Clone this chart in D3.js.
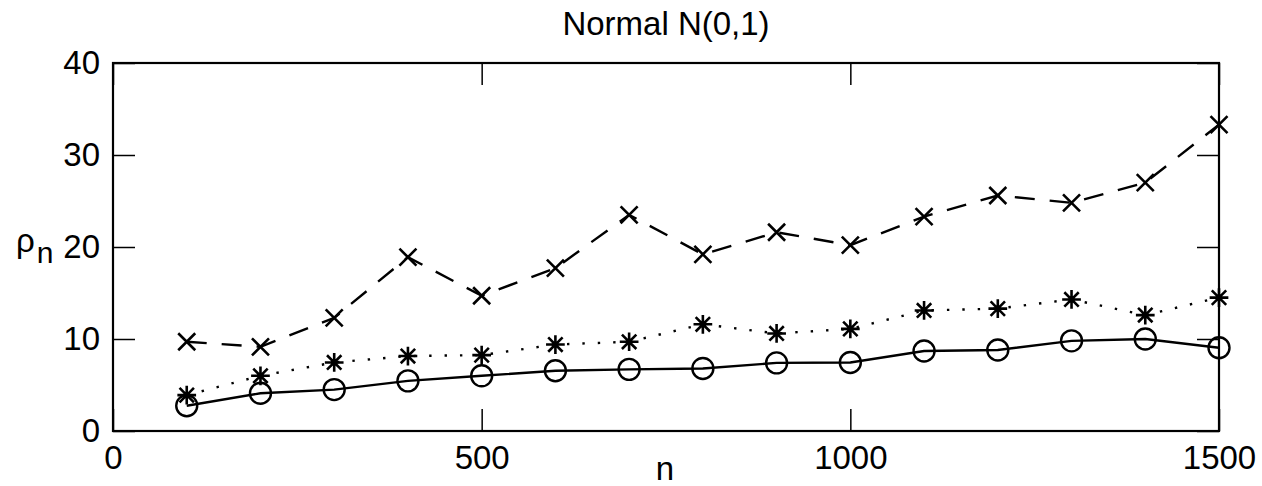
<!DOCTYPE html>
<html>
<head>
<meta charset="utf-8">
<script src="https://cdn.jsdelivr.net/npm/d3@7"></script>
<style>
  body { margin: 0; background: #fff; }
  svg { display: block; font-family: "Liberation Sans", Arial, Helvetica, sans-serif; }
</style>
</head>
<body>
<div id="chart"></div>
<script>
// sample sizes n
const nValues = [100, 200, 300, 400, 500, 600, 700, 800, 900, 1000, 1100, 1200, 1300, 1400, 1500];
// rho_n for the three methods
const seriesCircle = [2.75, 4.1, 4.5, 5.45, 6.0, 6.55, 6.7, 6.8, 7.4, 7.45, 8.7, 8.8, 9.8, 10.0, 9.05];
const seriesStar   = [3.9, 6.0, 7.45, 8.15, 8.25, 9.4, 9.7, 11.6, 10.6, 11.1, 13.1, 13.3, 14.3, 12.6, 14.5];
const seriesCross  = [9.7, 9.15, 12.3, 18.9, 14.7, 17.7, 23.5, 19.2, 21.6, 20.2, 23.3, 25.6, 24.8, 27.0, 33.3];
const xTicks = [0, 500, 1000, 1500];
const yTicks = [0, 10, 20, 30, 40];
const titleText = 'Normal N(0,1)';

const W = 1262, H = 486;
const margin = {top: 63, right: 43, bottom: 55, left: 113};
const width = W - margin.left - margin.right;
const height = H - margin.top - margin.bottom;
const fontSize = 33;

const svg = d3.select('#chart').append('svg')
    .attr('width', W)
    .attr('height', H);

const g = svg.append('g')
    .attr('transform', `translate(${margin.left},${margin.top})`);

const x = d3.scaleLinear().domain([0, 1500]).range([0, width]);
const y = d3.scaleLinear().domain([0, 40]).range([height, 0]);

// axes with inward ticks on all four sides
const tickLen = 22;
const styleAxis = sel => {
    sel.select('.domain').remove();
    sel.selectAll('line').attr('stroke', '#000').attr('stroke-width', 1.5);
    sel.selectAll('text').attr('fill', '#000').style('font-size', fontSize + 'px');
};

g.append('g')
    .attr('transform', `translate(0,${height})`)
    .call(d3.axisBottom(x).tickValues(xTicks).tickFormat(d3.format('d'))
        .tickSizeInner(-tickLen).tickSizeOuter(0).tickPadding(15))
    .call(styleAxis);

g.append('g')
    .call(d3.axisTop(x).tickValues(xTicks).tickSizeInner(-tickLen).tickSizeOuter(0).tickFormat(''))
    .call(styleAxis);

g.append('g')
    .call(d3.axisLeft(y).tickValues(yTicks).tickSizeInner(-tickLen).tickSizeOuter(0).tickPadding(13))
    .call(styleAxis);

g.append('g')
    .attr('transform', `translate(${width},0)`)
    .call(d3.axisRight(y).tickValues(yTicks).tickSizeInner(-tickLen).tickSizeOuter(0).tickFormat(''))
    .call(styleAxis);

// box
g.append('rect')
    .attr('x', 0).attr('y', 0)
    .attr('width', width).attr('height', height)
    .attr('fill', 'none')
    .attr('stroke', '#000')
    .attr('stroke-width', 2.2);

const series = [
    {values: seriesCross, dash: '20,15', marker: 'x'},
    {values: seriesStar, dash: '2.4,13', marker: 'star'},
    {values: seriesCircle, dash: null, marker: 'o'}
];

const line = d3.line()
    .x((d, i) => x(nValues[i]))
    .y(d => y(d));

const markerPath = (type, r) => {
    const p = d3.path();
    if (type === 'x' || type === 'star') {
        p.moveTo(-r, -r); p.lineTo(r, r);
        p.moveTo(-r, r); p.lineTo(r, -r);
    }
    if (type === 'star') {
        const s = r * 1.3;
        p.moveTo(0, -s); p.lineTo(0, s);
        p.moveTo(-s, 0); p.lineTo(s, 0);
    }
    return p.toString();
};

series.forEach(s => {
    g.append('path')
        .datum(s.values)
        .attr('d', line)
        .attr('fill', 'none')
        .attr('stroke', '#000')
        .attr('stroke-width', 2.4)
        .attr('stroke-dasharray', s.dash);

    const pts = g.append('g').selectAll('.pt')
        .data(s.values)
        .enter();

    if (s.marker === 'o') {
        pts.append('circle')
            .attr('cx', (d, i) => x(nValues[i]))
            .attr('cy', d => y(d))
            .attr('r', 10.5)
            .attr('fill', 'none')
            .attr('stroke', '#000')
            .attr('stroke-width', 2.4);
    } else {
        pts.append('path')
            .attr('transform', (d, i) => `translate(${x(nValues[i])},${y(d)})`)
            .attr('d', markerPath(s.marker, s.marker === 'x' ? 8.5 : 7.2))
            .attr('fill', 'none')
            .attr('stroke', '#000')
            .attr('stroke-width', 2.6);
    }
});

// title and axis labels
svg.append('text')
    .attr('x', margin.left + width / 2)
    .attr('y', 35)
    .attr('text-anchor', 'middle')
    .style('font-size', fontSize + 'px')
    .text(titleText);

svg.append('text')
    .attr('x', 665)
    .attr('y', 480)
    .attr('text-anchor', 'middle')
    .style('font-size', fontSize + 'px')
    .text('n');

const yLab = svg.append('text')
    .attr('x', 16)
    .attr('y', 252)
    .style('font-size', fontSize + 'px');
yLab.append('tspan').text('ρ');
yLab.append('tspan')
    .attr('dy', 11)
    .attr('dx', 2)
    .style('font-size', '30px')
    .text('n');
</script>
</body>
</html>
